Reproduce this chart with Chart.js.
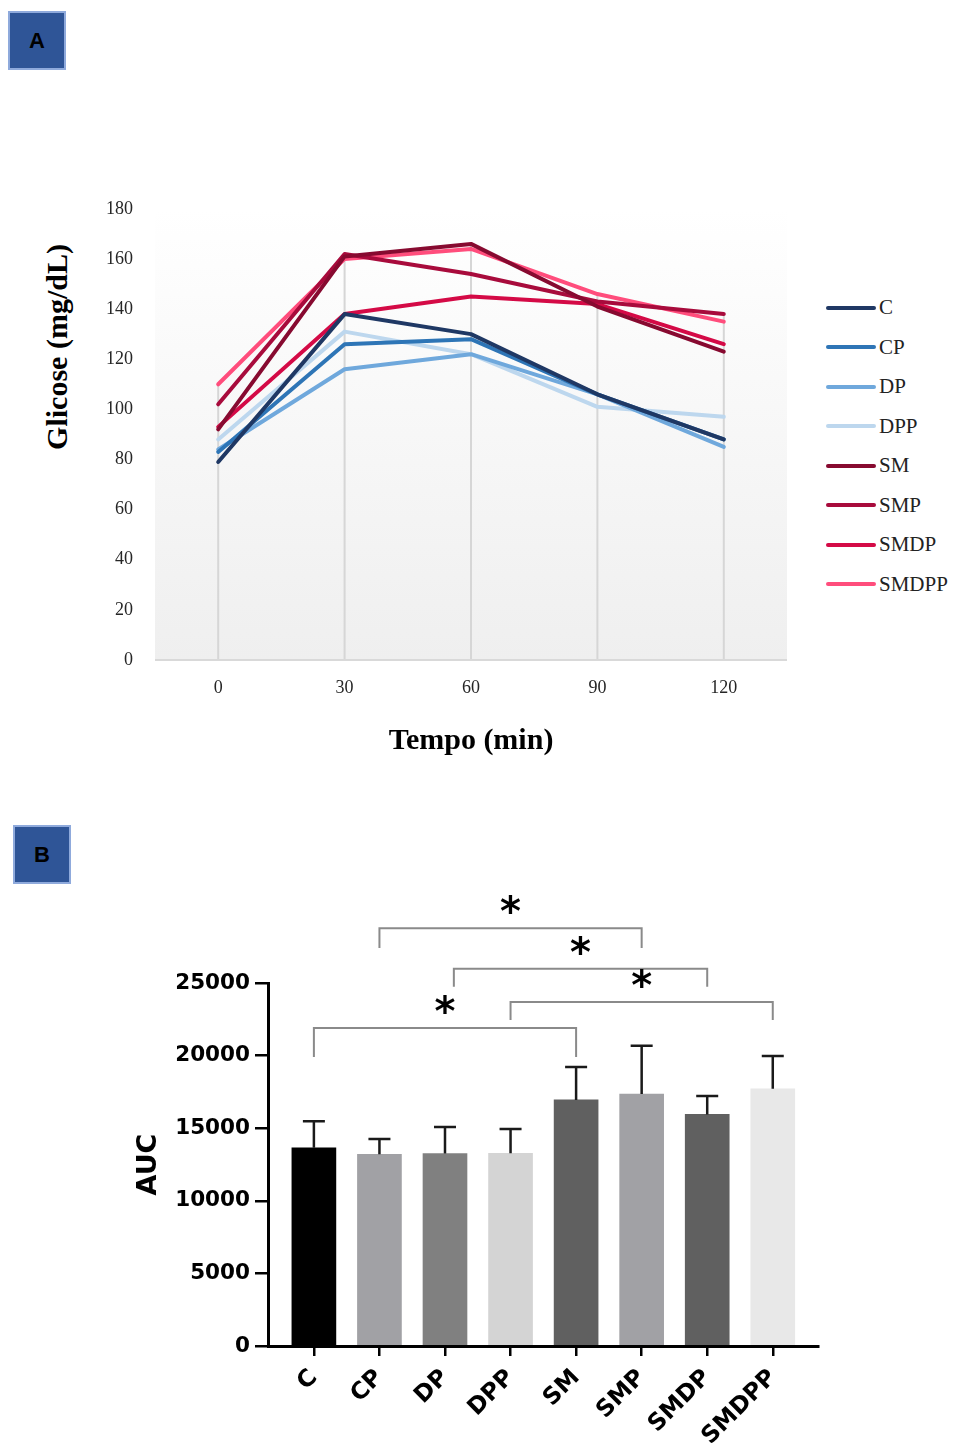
<!DOCTYPE html>
<html>
<head>
<meta charset="utf-8">
<script src="https://cdn.jsdelivr.net/npm/chart.js@4.4.1/dist/chart.umd.min.js"></script>
<style>
  html, body { margin: 0; padding: 0; background: #fff; }
  body { width: 955px; height: 1450px; position: relative; overflow: hidden; }
  .tag {
    position: absolute; width: 54px; height: 55px;
    background: #2f5597; border: 2px solid #8faadc;
    font: bold 22px "Liberation Sans", Arial, sans-serif; color: #000;
    display: flex; align-items: center; justify-content: center;
  }
  .box { position: absolute; }
  #ytitle-a {
    position: absolute; left: 57px; top: 347px;
    transform: translate(-50%, -50%) rotate(-90deg);
    font: bold 30px "Liberation Serif", "Times New Roman", serif; color: #000;
    white-space: nowrap;
  }
  #legend-a { position: absolute; left: 826px; top: 288px; }
  .leg-item { height: 39.5px; display: flex; align-items: center; }
  .leg-line { width: 50px; height: 4px; border-radius: 2px; margin-right: 3px; }
  .leg-text { font: 21px "Liberation Serif", "Times New Roman", serif; color: #222; }
</style>
</head>
<body>

<div class="tag" style="left:8px; top:11px;">A</div>
<div class="tag" style="left:13px; top:825px;">B</div>

<div id="ytitle-a">Glicose (mg/dL)</div>
<div class="box" style="left:30px; top:184px; width:757px; height:586px;"><canvas id="chartA"></canvas></div>
<div id="legend-a"></div>

<div class="box" style="left:120px; top:880px; width:720px; height:570px;"><canvas id="chartB"></canvas></div>

<script>
// ── Data: glucose tolerance curves (mg/dL) ──
const TIME_LABELS = ["0", "30", "60", "90", "120"];
const GROUPS = ["C", "CP", "DP", "DPP", "SM", "SMP", "SMDP", "SMDPP"];

const GLU_C     = [79, 138, 130, 106, 88];
const GLU_CP    = [83, 126, 128, 106, 88];
const GLU_DP    = [84, 116, 122, 106, 85];
const GLU_DPP   = [88, 131, 122, 101, 97];
const GLU_SM    = [92, 161, 166, 141, 123];
const GLU_SMP   = [102, 162, 154, 143, 138];
const GLU_SMDP  = [93, 138, 145, 142, 126];
const GLU_SMDPP = [110, 160, 164, 146, 135];
const GLU_SERIES = [GLU_C, GLU_CP, GLU_DP, GLU_DPP, GLU_SM, GLU_SMP, GLU_SMDP, GLU_SMDPP];

const GLU_TICKS = [0, 180, 20]; // min, max, step

// ── Data: area under the curve ──
const AUC_MEAN = [13650, 13200, 13250, 13270, 16950, 17350, 15950, 17720];
const AUC_SD   = [1825, 1060, 1830, 1680, 2270, 3330, 1260, 2250];
const AUC_TICKS = [0, 25000, 5000];

// significance brackets: group index from / to, bar level, arm end level
const SIG_FROM  = [1, 2.135, 3, 0];
const SIG_TO    = [5, 6, 7, 4];
const SIG_LEVEL = [28770, 25985, 23690, 21900];
const SIG_END   = [27410, 24745, 22450, 19900];

// ── Styles ──
const LINE_COLORS = ["#1f3864", "#2e75b6", "#6fa8dc", "#bdd7ee", "#870a30", "#a80b3c", "#d40a46", "#ff4d7c"];
const BAR_COLORS  = ["#000000", "#a1a1a5", "#808080", "#d4d4d4", "#606060", "#a1a1a5", "#606060", "#e8e8e8"];

const SERIF = "'Liberation Serif', 'Times New Roman', serif";
const SANS  = "'DejaVu Sans', Arial, sans-serif";

// ── Panel A plugins ──
const plotBackdrop = {
  id: "plotBackdrop",
  beforeDatasetsDraw(chart) {
    const { ctx, chartArea: a, scales } = chart;
    ctx.save();
    const g = ctx.createLinearGradient(0, a.top, 0, a.bottom);
    g.addColorStop(0, "#ffffff");
    g.addColorStop(1, "#efefef");
    ctx.fillStyle = g;
    ctx.fillRect(a.left, a.top, a.right - a.left, a.bottom - a.top);

    // drop lines from the highest point of each time to the axis
    ctx.strokeStyle = "#d6d6d6";
    ctx.lineWidth = 2;
    TIME_LABELS.forEach((_, i) => {
      const top = Math.max(...GLU_SERIES.map(s => s[i]));
      const x = scales.x.getPixelForValue(i);
      ctx.beginPath();
      ctx.moveTo(x, scales.y.getPixelForValue(top));
      ctx.lineTo(x, a.bottom);
      ctx.stroke();
    });

    ctx.strokeStyle = "#d9d9d9";
    ctx.beginPath();
    ctx.moveTo(a.left, a.bottom);
    ctx.lineTo(a.right, a.bottom);
    ctx.stroke();
    ctx.restore();
  }
};

new Chart(document.getElementById("chartA"), {
  type: "line",
  data: {
    labels: TIME_LABELS,
    datasets: GROUPS.map((g, i) => ({
      label: g,
      data: GLU_SERIES[i],
      borderColor: LINE_COLORS[i],
      borderWidth: 4,
      borderCapStyle: "round",
      borderJoinStyle: "round",
      pointRadius: 0,
      tension: 0,
      fill: false
    }))
  },
  options: {
    responsive: true,
    maintainAspectRatio: false,
    animation: false,
    layout: { padding: { top: 3, left: 0, right: 0, bottom: 0 } },
    plugins: { legend: { display: false }, tooltip: { enabled: false } },
    scales: {
      x: {
        offset: true,
        grid: { display: false },
        border: { display: false },
        ticks: { color: "#262626", font: { family: SERIF, size: 18 }, padding: 9 },
        title: {
          display: true, text: "Tempo (min)", color: "#000",
          font: { family: SERIF, size: 30, weight: "bold" },
          padding: { top: 0, bottom: 11 }
        },
        afterFit: s => { s.height = 110; }
      },
      y: {
        min: GLU_TICKS[0], max: GLU_TICKS[1],
        grid: { display: false },
        border: { display: false },
        ticks: { stepSize: GLU_TICKS[2], color: "#262626", font: { family: SERIF, size: 18 }, padding: 14 },
        afterFit: s => { s.width = 125; }
      }
    }
  },
  plugins: [plotBackdrop]
});

// HTML legend for panel A
document.getElementById("legend-a").innerHTML = GROUPS.map((g, i) => `
  <div class="leg-item">
    <div class="leg-line" style="background:${LINE_COLORS[i]}"></div>
    <span class="leg-text">${g}</span>
  </div>`).join("");

// ── Panel B plugins ──
const errorBars = {
  id: "errorBars",
  afterDatasetsDraw(chart) {
    const { ctx, scales } = chart;
    const meta = chart.getDatasetMeta(0);
    ctx.save();
    ctx.strokeStyle = "#1a1a1a";
    ctx.lineWidth = 2.5;
    meta.data.forEach((bar, i) => {
      const yTop = scales.y.getPixelForValue(AUC_MEAN[i] + AUC_SD[i]);
      ctx.beginPath();
      ctx.moveTo(bar.x, bar.y);
      ctx.lineTo(bar.x, yTop);
      ctx.moveTo(bar.x - 11, yTop);
      ctx.lineTo(bar.x + 11, yTop);
      ctx.stroke();
    });
    ctx.restore();
  }
};

const sigBrackets = {
  id: "sigBrackets",
  afterDraw(chart) {
    const { ctx, scales } = chart;
    ctx.save();
    ctx.strokeStyle = "#8a8a8a";
    ctx.lineWidth = 2;
    ctx.fillStyle = "#000";
    ctx.font = "bold 40px " + SANS;
    ctx.textAlign = "center";
    ctx.textBaseline = "alphabetic";
    SIG_FROM.forEach((from, i) => {
      const x1 = scales.x.getPixelForValue(from);
      const x2 = scales.x.getPixelForValue(SIG_TO[i]);
      const y = scales.y.getPixelForValue(SIG_LEVEL[i]);
      const yEnd = scales.y.getPixelForValue(SIG_END[i]);
      ctx.beginPath();
      ctx.moveTo(x1, yEnd);
      ctx.lineTo(x1, y);
      ctx.lineTo(x2, y);
      ctx.lineTo(x2, yEnd);
      ctx.stroke();
      ctx.fillText("*", (x1 + x2) / 2, y - 25 + 22);
    });
    ctx.restore();
  }
};

new Chart(document.getElementById("chartB"), {
  type: "bar",
  data: {
    datasets: [{
      label: "AUC",
      data: AUC_MEAN.map((v, i) => ({ x: i, y: v })),
      backgroundColor: BAR_COLORS,
      borderWidth: 0,
      barThickness: 44
    }]
  },
  options: {
    responsive: true,
    maintainAspectRatio: false,
    animation: false,
    layout: { padding: { top: 103, left: 0, right: 22, bottom: 0 } },
    plugins: { legend: { display: false }, tooltip: { enabled: false } },
    scales: {
      x: {
        type: "linear",
        offset: false,
        min: -0.7, max: 7.69,
        grid: { offset: false, drawOnChartArea: false, drawTicks: true, tickLength: 10, color: "#000", lineWidth: 2.5 },
        border: { color: "#000", width: 3 },
        ticks: {
          stepSize: 1, includeBounds: false, autoSkip: false,
          minRotation: 45, maxRotation: 45, padding: 8,
          color: "#000", font: { family: SANS, size: 23.5, weight: "bold" },
          callback: v => GROUPS[v] ?? ""
        },
        afterFit: s => { s.height = 104; }
      },
      y: {
        min: AUC_TICKS[0], max: AUC_TICKS[1],
        grid: { drawOnChartArea: false, tickLength: 13, color: "#000", lineWidth: 2.5 },
        border: { color: "#000", width: 3 },
        ticks: {
          stepSize: AUC_TICKS[2], padding: 5, color: "#000",
          font: { family: SANS, size: 21.5, weight: "bold" },
          callback: v => String(v)
        },
        title: {
          display: true, text: "AUC", color: "#000",
          font: { family: SANS, size: 27, weight: "bold" },
          padding: { top: 13, bottom: 0 }
        },
        afterFit: s => { s.width = 148; }
      }
    }
  },
  plugins: [errorBars, sigBrackets]
});
</script>
</body>
</html>
